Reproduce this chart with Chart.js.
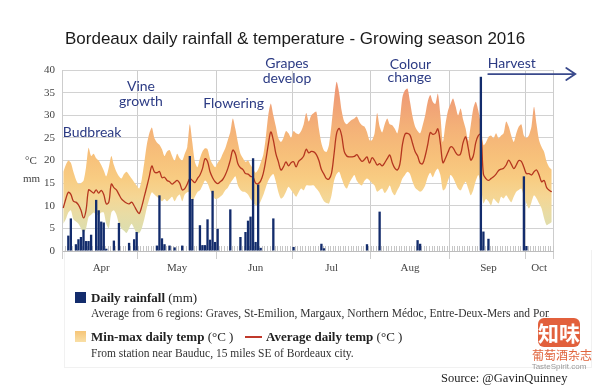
<!DOCTYPE html>
<html>
<head>
<meta charset="utf-8">
<script src="https://cdn.jsdelivr.net/npm/chart.js@4.4.1/dist/chart.umd.min.js"></script>
<style>
  html, body { margin: 0; padding: 0; background: #fff; }
  #wrap { position: relative; width: 599px; height: 390px; overflow: hidden; font-family: 'Liberation Serif', 'DejaVu Serif', serif; color: #333; }
  #chart { position: absolute; left: 0; top: 0; }
  .abs { position: absolute; white-space: nowrap; }
  .title { left: 65px; top: 29px; font: 17px 'Liberation Sans', Arial, sans-serif; color: #1a1a1a; line-height: 20px; }
  .unit { font-size: 11px; color: #444; line-height: 14px; }
  .sq { width: 11px; height: 11px; }
  .lg { font-size: 13px; line-height: 18px; color: #222; }
  .lg b { font-weight: bold; }
  .note { font-size: 11.5px; line-height: 16px; color: #333; }
  .panel { left: 64px; top: 250px; width: 526px; height: 117px; border: 1px solid #f1f1f1; border-top: none; }
</style>
</head>
<body>
<div id="wrap">
  <div class="abs panel"></div>
  <canvas id="chart" width="599" height="390"></canvas>
  <div class="abs title">Bordeaux daily rainfall &amp; temperature - Growing season 2016</div>
  <div class="abs unit" style="left:25px; top:153px;">°C</div>
  <div class="abs unit" style="left:23px; top:171px;">mm</div>

  <div class="abs sq" style="left:75px; top:292px; background:#132c6c;"></div>
  <div class="abs lg" style="left:91px; top:289px;"><b>Daily rainfall</b> (mm)</div>
  <div class="abs note" style="left:91px; top:305px; width:458px; overflow:hidden;">Average from 6 regions: Graves, St-Emilion, Margaux, Northern Médoc, Entre-Deux-Mers and Pomerol</div>

  <div class="abs sq" style="left:75px; top:331px; background:linear-gradient(#f6c577, #f9dfa6);"></div>
  <div class="abs lg" style="left:91px; top:328px;"><b>Min-max daily temp</b> (°C )</div>
  <div class="abs" style="left:245px; top:336px; width:17px; height:1.5px; background:#c0392b;"></div>
  <div class="abs lg" style="left:266px; top:328px;"><b>Average daily temp</b> (°C )</div>
  <div class="abs note" style="left:91px; top:345px;">From station near Bauduc, 15 miles SE of Bordeaux city.</div>
  <div class="abs" style="left:441px; top:370px; font-size:12.5px; line-height:16px; color:#222;">Source: @GavinQuinney</div>

  <div class="abs" style="left:538px; top:318px; width:42px; height:29px; border-radius:6px; background:#e2603c; color:#fff; font:bold 21px 'Noto Sans CJK SC', sans-serif; line-height:29px; text-align:center;">知味</div>
  <div class="abs" style="left:532px; top:347px; width:54px; text-align:center; font:12px 'Noto Sans CJK SC', sans-serif; line-height:16px; color:#e0643c;">葡萄酒杂志</div>
  <div class="abs" style="left:528px; top:362px; width:62px; text-align:center; font:8px 'Liberation Sans', sans-serif; line-height:10px; color:#999;">TasteSpirit.com</div>
</div>
<script>
// months shown on the axis (season runs 1 Apr - 11 Oct 2016)
const monthNames = ['Apr', 'May', 'Jun', 'Jul', 'Aug', 'Sep', 'Oct'];
const monthLengths = [30, 31, 30, 31, 31, 30, 11];

// daily rainfall, mm (one row per month)
const rainfall = [
    0,0,3.4,7.2,0,1.5,2.6,3.1,4.7,2.2, 2.2,3.6,0,11.3,9,6.5,6.3,0.5,0,0, 2.3,0,6.2,0,0,0,1.8,0,2.6,4.2,
    0,0,0,0,0,0,0,1.2,12.3,2.8, 1.5,0,1.2,0,0.8,0,0,1.2,0,0, 21,11.5,0,0,5.7,1.3,1.3,7,2.5,13.3, 2,
    4.9,0,0,0,0,9.2,0,0,0,3.1, 0,4.2,6.7,7.6,20.5,2,14.7,0.7,0,0, 0,0,7.2,0,0,0,0,0,0,0,
    0.9,0,0,0,0,0,0,0,0,0, 0,1.6,0.6,0,0,0,0,0,0,0, 0,0,0,0,0,0,0,0,0,1.5, 0,
    0,0,0,8.7,0,0,0,0,0,0, 0,0,0,0,0,0,0,0,2.4,1.6, 0,0,0,0,0,0,0,0,0,0, 0,
    0,0,0,0,0,0,0,0,0,0, 0,0,38.5,4.3,0,2.7,0,0,0,0, 0,0,0,0,0,0,0,0,0,16.5,
    1.1,0,0,0,0,0,0,0,0,0,0
];

// daily max temperature, °C
const tempMax = [
    17.5,19,20,19.5,17.5,15.8,14.8,15,15.5,18.5, 22.8,21,21.5,20.5,20,19,17.8,16.5,18.5,21, 19,17.5,16.5,16,17,17.5,16.8,16,15.2,14.5,
    13.8,15.8,19.5,23.5,26,27.3,25,24,23.5,22.5, 21,22,22.3,21,20,21.5,20.5,20,21.5,23, 28,24,19.7,18.5,20.5,22,22.7,22.5,20.4,19.2, 18.5,
    19.5,20.2,21.5,22.7,24.5,26.3,29.3,27,24,21.5, 20.5,19.7,20,19,18.2,17.3,18,19.5,21.2,25, 30,32.6,30,27.5,24.9,24.1,25,26.5,26,25,
    26.5,26,25.8,26.5,28,30.5,28.6,30,30.5,30.8, 27,23.8,22.2,21.9,23.5,28,33.5,37.4,35,31, 28.6,28,28.5,29,29.3,29.7,28.5,27.8,27.5,26.3, 24.5,
    24.5,26,30.5,27.5,26.2,28,29.3,28,27.8,27, 26,29,34,35.5,35.9,33,29.8,27.5,26.5,26, 27.8,30,33,34.5,33,32.5,34.8,30,24.1,28, 31,
    32.5,33.7,32,30,31.5,29,27,24.3,27.8,31.5, 33,31,28,23.4,24,25.2,25.5,24.9,26,24.9, 25.5,26,28.6,27.5,25.5,24.1,26,27.5,28,25.5,
    25,25.6,27.5,31.9,28,24.5,23,21.9,19.7,18.5,18
];

// daily min temperature, °C
const tempMin = [
    6,7,8.5,9,7,6.5,6,5,4,5, 7.5,8,8.5,8,8,8.5,8.5,6,5,8.5, 9,8,6,5,4.5,4,5,6,5,4,
    4,5,7,9.5,11.5,13,12.5,12,11.5,11, 11.5,11,11.5,12,11,12,12.5,11,12.5,13, 13,11,12,13,13.4,14.5,15.6,15,13.5,12.3, 11.5,
    11.6,12,12.5,13.4,14,15,15.8,16.5,14.5,13.5, 13.1,13,12.5,11.5,10.8,10.1,10.1,11,12.3,14, 15.5,16.5,17,15.3,13,11.6,12,13.1,14.2,13.5,
    12.7,12,13,13.8,13.4,14.5,14.5,14.5,14.5,13.8, 13.1,12,11,10.6,10.5,12.3,15.5,17,17.5,16, 14.5,13.8,15,16,16.8,15.5,14.8,14.5,15.5,16, 15.6,
    15,14.5,13.1,13.5,13.8,12.8,13.5,14.5,13,12.3, 13.4,14.5,16,16.8,17.5,17,15.3,14,13.5,13.1, 13.5,14.5,16.3,17.3,16.3,17.5,18.2,16.8,13.4,13.8, 15.5,
    16.8,16.2,15,13.8,13.4,14.5,15.3,13.8,12.3,13.5, 15.5,16.8,14.5,10.5,11.5,11,10.1,11.6,11,10.5, 12,11.6,12.3,11.5,10.8,12,13.1,13.5,13.8,12,
    10.5,9.4,10.8,12.3,11.6,10.5,9.4,7.2,5.7,6,6.4
];

// daily average temperature, °C
const tempAvg = [
    9.5,11.5,13,12.5,11,10.8,10.2,9,7.3,9, 13.5,13.2,12.8,13.5,12.8,13.4,12.5,10.4,10.8,14.8, 14,13.5,12.5,11.5,11,10.6,10.4,10.8,10,9,
    8.3,9.8,12,14.2,16.5,18.8,17.5,17.3,17.6,16.2, 16.3,15.6,15.3,14.8,15.2,15.6,15,13.5,13.8,14.8, 16,15.6,15.1,16,16.8,18.2,20.4,19.8,17.5,16.2, 15.3,
    14.9,15.3,15.8,16.8,18.2,20.1,22.3,21.5,19.3,18.4, 18,17.1,17,16.5,16.3,15,14.9,15.5,17.1,20, 23.5,26.3,24.5,21.5,19.7,17.9,18.6,19.7,18.8,19.5,
    19.7,18.6,19.8,20.3,21,22.5,21.7,22,21.9,21.3, 20,18,17,16,15.9,17.2,21.5,26,27.1,25.5, 22,21,20.8,20.8,20.9,21.3,20.5,19.8,20.2,20.8, 19.4,
    20.6,20,19,19.3,18.8,19.5,20.4,21.2,19.5,18.3, 17.9,19.2,23.5,25.8,26,25.6,23.8,22,21,19.4, 19.3,21,23.5,26.2,25.8,26,27,23.8,19.5,20.5, 21.8,
    23,22.8,21.8,21.2,21.5,24,25.2,22.8,20.1,21, 24,25.5,25.8,17,16,15.6,16,16.4,17,17.8, 18.1,18.3,19,20.1,19.2,18.2,19,20,19.8,18.5,
    17.1,17.1,16.8,17.5,17.9,16.8,15.3,15.6,14,13.4,13.1
];

// build day labels, month boundaries and month label positions
const days = [];
const monthStarts = [];
const monthLabelAt = {};
monthNames.forEach((m, i) => {
    monthStarts.push(days.length);
    monthLabelAt[days.length + Math.floor(monthLengths[i] / 2)] = m;
    for (let d = 1; d <= monthLengths[i]; d++) days.push(d + ' ' + m);
});

const serif = "'Liberation Serif', 'DejaVu Serif', serif";

// small daily tick marks along the bottom of the plot
const dayTicks = {
    id: 'dayTicks',
    beforeDatasetsDraw(chart) {
        const { ctx, chartArea, scales: { x } } = chart;
        const step = x.getPixelForValue(1) - x.getPixelForValue(0);
        ctx.save();
        ctx.strokeStyle = '#c6c6c6';
        ctx.lineWidth = 1;
        ctx.beginPath();
        for (let i = 0; i <= days.length; i++) {
            const px = Math.round(x.getPixelForValue(i) - step / 2) + 0.5;
            ctx.moveTo(px, chartArea.bottom);
            ctx.lineTo(px, chartArea.bottom - 5);
        }
        ctx.stroke();
        ctx.restore();
    }
};

// hand written growth stage notes
const stageNotes = {
    id: 'stageNotes',
    afterDraw(chart) {
        const { ctx, scales: { x, y } } = chart;
        ctx.save();
        ctx.fillStyle = '#2c3b84';
        ctx.strokeStyle = '#3a4a8c';
        ctx.font = "14px Lato, 'Open Sans', sans-serif";
        ctx.textBaseline = 'middle';
        ctx.textAlign = 'left';
        ctx.fillText('Budbreak', x.getPixelForValue(-0.2), y.getPixelForValue(26.3));
        ctx.textAlign = 'center';
        [
            ['Vine', 30.7, 36.3], ['growth', 30.7, 33],
            ['Flowering', 67.3, 32.7],
            ['Grapes', 88.4, 41.5], ['develop', 88.4, 38.1],
            ['Colour', 137.2, 41.3], ['change', 136.8, 38.4],
            ['Harvest', 177.2, 41.4]
        ].forEach(([t, d, v]) => ctx.fillText(t, x.getPixelForValue(d), y.getPixelForValue(v)));
        // harvest arrow
        const x0 = x.getPixelForValue(167.9), x1 = x.getPixelForValue(202.3), ya = y.getPixelForValue(39.1);
        ctx.lineWidth = 1.8;
        ctx.lineCap = 'round';
        ctx.beginPath();
        ctx.moveTo(x0, ya);
        ctx.lineTo(x1, ya);
        ctx.moveTo(x1 - 9, ya - 6);
        ctx.lineTo(x1, ya);
        ctx.lineTo(x1 - 9, ya + 6);
        ctx.stroke();
        ctx.restore();
    }
};

function bandFill(context) {
    const chart = context.chart;
    if (!chart.chartArea) return 'rgba(247,192,122,0.8)';
    const y = chart.scales.y;
    const g = chart.ctx.createLinearGradient(0, y.getPixelForValue(40), 0, y.getPixelForValue(0));
    g.addColorStop(0, 'rgb(236,140,110)');
    g.addColorStop(7 / 40, 'rgb(240,160,118)');
    g.addColorStop(13 / 40, 'rgb(244,178,120)');
    g.addColorStop(19 / 40, 'rgb(247,192,122)');
    g.addColorStop(24 / 40, 'rgb(248,204,130)');
    g.addColorStop(28 / 40, 'rgb(245,214,148)');
    g.addColorStop(32 / 40, 'rgb(232,220,165)');
    g.addColorStop(37 / 40, 'rgb(215,222,178)');
    g.addColorStop(1, 'rgb(210,222,180)');
    return g;
}

function isMonthLine(ctx) {
    return ctx.type !== 'tick' || monthStarts.includes(ctx.index);
}

new Chart(document.getElementById('chart'), {
    type: 'bar',
    data: {
        labels: days,
        datasets: [
            {
                label: 'Daily rainfall',
                data: rainfall,
                backgroundColor: '#132c6c',
                barPercentage: 1,
                categoryPercentage: 0.92,
                order: 0
            },
            {
                type: 'line',
                label: 'Average daily temp',
                data: tempAvg,
                borderColor: '#b5361f',
                borderWidth: 1.3,
                pointRadius: 0,
                tension: 0.35,
                fill: false,
                order: 1
            },
            {
                type: 'line',
                label: 'Max temp',
                data: tempMax,
                borderWidth: 0,
                pointRadius: 0,
                tension: 0.25,
                backgroundColor: bandFill,
                fill: '+1',
                order: 2
            },
            {
                type: 'line',
                label: 'Min temp',
                data: tempMin,
                borderWidth: 0,
                pointRadius: 0,
                tension: 0.25,
                fill: false,
                order: 3
            }
        ]
    },
    options: {
        responsive: false,
        animation: false,
        devicePixelRatio: 1,
        layout: { padding: { top: 70, right: 46, bottom: 109, left: 0 } },
        plugins: { legend: { display: false }, tooltip: { enabled: false } },
        scales: {
            x: {
                grid: {
                    offset: true,
                    color: ctx => isMonthLine(ctx) ? '#cdcdcd' : 'rgba(0,0,0,0)',
                    tickLength: 8,
                    drawTicks: true
                },
                border: { color: '#bdbdbd' },
                ticks: {
                    autoSkip: false,
                    maxRotation: 0,
                    minRotation: 0,
                    padding: 3,
                    color: '#444',
                    font: { family: serif, size: 11 },
                    callback: (v, i) => monthLabelAt[i] || ''
                },
                afterFit: s => { s.height = 30; }
            },
            y: {
                min: 0,
                max: 40,
                ticks: { stepSize: 5, padding: 7, color: '#444', font: { family: serif, size: 11 } },
                grid: { color: '#d2d2d2', drawTicks: false },
                border: { color: '#cdcdcd' },
                afterFit: s => { s.width = 62; }
            }
        }
    },
    plugins: [dayTicks, stageNotes]
});
</script>
</body>
</html>
